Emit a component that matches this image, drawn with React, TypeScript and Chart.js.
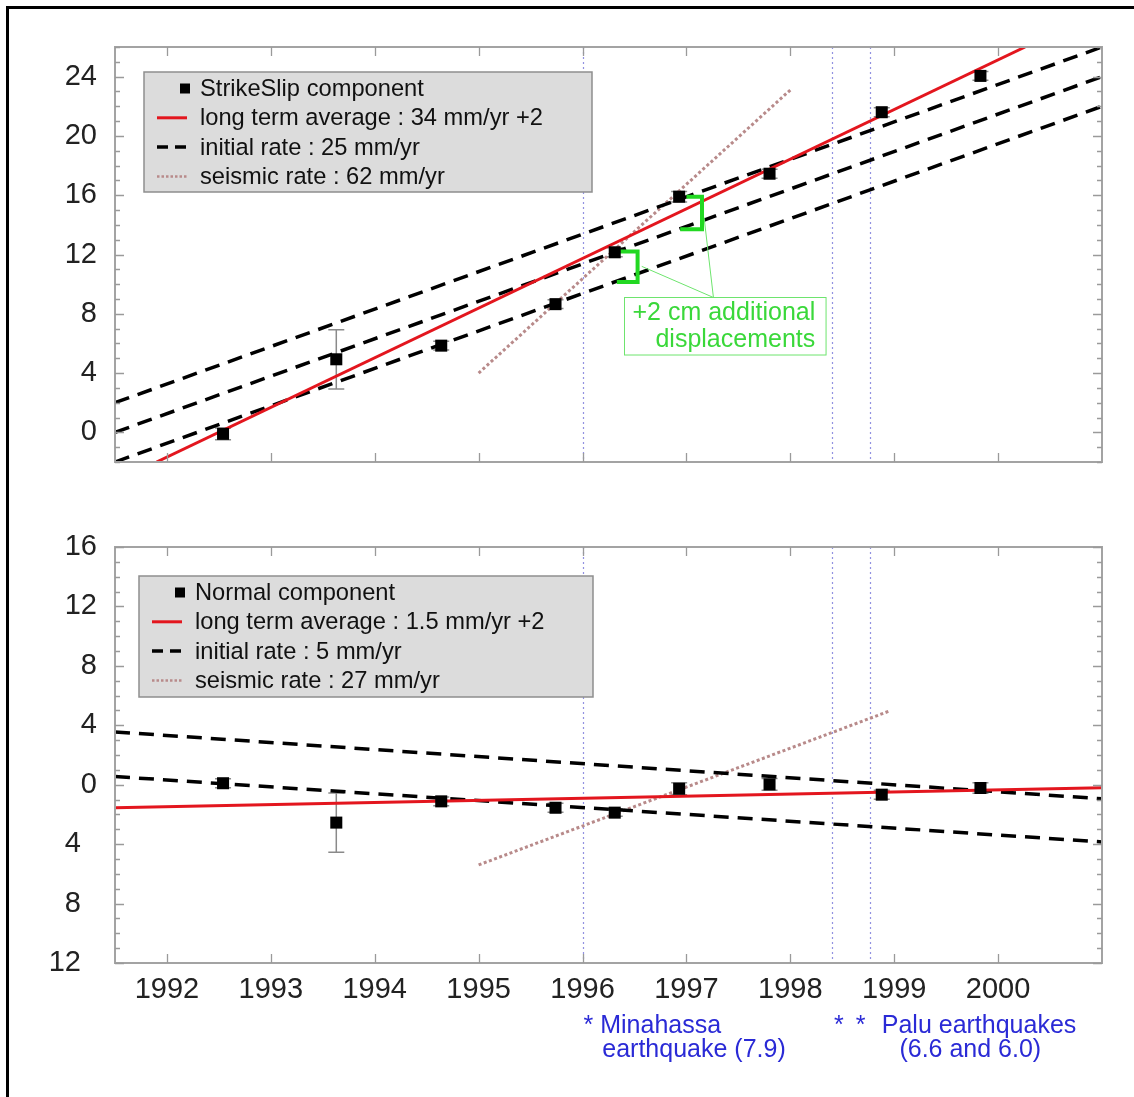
import React, { useEffect, useRef } from "react";
import { Chart, registerables } from "chart.js";

Chart.register(...registerables);

const FONT = '"Liberation Sans", Arial, Helvetica, sans-serif';

// ---------------- data ----------------
const surveyYears = [1992.54, 1993.63, 1994.64, 1995.74, 1996.31, 1996.93, 1997.8, 1998.88, 1999.83];
const strikeSlip = [-0.1, 4.93, 5.85, 8.65, 12.15, 15.9, 17.45, 21.6, 24.05];
const strikeSlipErr = [0.4, 2.0, 0.3, 0.3, 0.3, 0.35, 0.3, 0.3, 0.3];
const normalComp = [0.1, -2.55, -1.12, -1.55, -1.88, -0.27, 0.02, -0.67, -0.22];
const normalErr = [0.3, 2.0, 0.3, 0.3, 0.25, 0.4, 0.4, 0.3, 0.35];

const yearTicks = [1992, 1993, 1994, 1995, 1996, 1997, 1998, 1999, 2000];
const strikeSlipTicks = [0, 4, 8, 12, 16, 20, 24];
const normalTicks = [-12, -8, -4, 0, 4, 8, 12, 16];
const earthquakeYears = [1996.0, 1998.4, 1998.77];

const lineSpanX = [1991.5, 2001];
// strike-slip lines
const ssAverageX = [1991.9, 2000.26];
const ssAverageY = [-2, 26];
const ssInitialUpperY = [2, 26];
const ssInitialMiddleY = [0, 24];
const ssInitialLowerY = [-2, 22];
const ssSeismicX = [1995, 1998];
const ssSeismicY = [4, 23.1];
// normal lines
const nmAverageY = [-1.55, -0.2];
const nmInitialUpperY = [3.55, -0.95];
const nmInitialLowerY = [0.55, -3.85];
const nmSeismicX = [1995, 1998.95];
const nmSeismicY = [-5.4, 4.95];

// "+2 cm additional displacements" brackets and leader lines
const bracketAX = [1996.35, 1996.53, 1996.53, 1996.33];
const bracketAY = [12.2, 12.2, 10.15, 10.15];
const bracketBX = [1997.0, 1997.15, 1997.15, 1996.94];
const bracketBY = [15.9, 15.9, 13.7, 13.7];
const leaderX = [1996.57, 1997.26, 1997.17];
const leaderY = [11.2, 9.1, 14.5];

// ---------------- styles / layout ----------------
const RED = "#e3161e";
const BLACK = "#000000";
const SEISMIC = "#b88a8a";
const GREEN = "#22d822";
const GREEN_LIGHT = "#6ee46e";
const BLUE_TEXT = "#2a2ad6";
const EVENT_COLOR = "rgba(110,110,215,0.75)";
const FRAME = "#a3a3a3";

type Pt = { x: number; y: number };
const pts = (xs: number[], ys: number[]): Pt[] => xs.map((x, i) => ({ x, y: ys[i] }));

type LegendItem = { kind: "marker" | "solid" | "dash" | "dot"; text: string };

interface PanelSpec {
  canvasHeight: number;
  xAxisHeight: number;
  yMin: number;
  yMax: number;
  yTicks: number[];
  values: number[];
  errors: number[];
  lines: any[];
  legendBox: { x: number; y: number; w: number; h: number };
  legend: LegendItem[];
  showXLabels: boolean;
  yLabel: (v: number) => string;
  extraDraw?: (chart: any) => void;
}

const lineDs = (data: Pt[], color: string, width: number, dash: number[], order: number) => ({
  data,
  showLine: true,
  borderColor: color,
  backgroundColor: color,
  borderWidth: width,
  borderDash: dash,
  pointRadius: 0,
  pointHoverRadius: 0,
  tension: 0,
  order,
});

function drawLegend(ctx: CanvasRenderingContext2D, box: PanelSpec["legendBox"], items: LegendItem[]) {
  ctx.save();
  ctx.fillStyle = "#dcdcdc";
  ctx.fillRect(box.x, box.y, box.w, box.h);
  ctx.strokeStyle = "#8e8e8e";
  ctx.lineWidth = 1.5;
  ctx.strokeRect(box.x, box.y, box.w, box.h);
  ctx.font = `23.7px ${FONT}`;
  ctx.textBaseline = "middle";
  ctx.textAlign = "left";
  items.forEach((it, i) => {
    const cy = box.y + 16.5 + i * 29.3;
    const x0 = box.x + 13;
    const x1 = box.x + 43;
    ctx.setLineDash([]);
    if (it.kind === "marker") {
      ctx.fillStyle = BLACK;
      ctx.fillRect(box.x + 36, cy - 5, 10, 10);
    } else if (it.kind === "solid") {
      ctx.strokeStyle = RED;
      ctx.lineWidth = 3;
      ctx.beginPath(); ctx.moveTo(x0, cy); ctx.lineTo(x1, cy); ctx.stroke();
    } else if (it.kind === "dash") {
      ctx.strokeStyle = BLACK;
      ctx.lineWidth = 3.5;
      ctx.setLineDash([11, 7]);
      ctx.beginPath(); ctx.moveTo(x0, cy); ctx.lineTo(x1, cy); ctx.stroke();
    } else {
      ctx.strokeStyle = SEISMIC;
      ctx.lineWidth = 2.5;
      ctx.setLineDash([2.5, 2]);
      ctx.beginPath(); ctx.moveTo(x0, cy); ctx.lineTo(x1, cy); ctx.stroke();
    }
    ctx.setLineDash([]);
    ctx.fillStyle = "#111";
    ctx.fillText(it.text, box.x + 56, cy + 1);
  });
  ctx.restore();
}

function makeDecor(spec: PanelSpec) {
  return {
    id: "decor",
    beforeDatasetsDraw(chart: any) {
      const { ctx, chartArea: a, scales } = chart;
      const x = scales.x;
      const y = scales.y;
      ctx.save();
      // earthquake dates
      ctx.strokeStyle = EVENT_COLOR;
      ctx.lineWidth = 1.2;
      ctx.setLineDash([2, 3]);
      earthquakeYears.forEach((yr) => {
        const px = Math.round(x.getPixelForValue(yr)) + 0.5;
        ctx.beginPath(); ctx.moveTo(px, a.top); ctx.lineTo(px, a.bottom); ctx.stroke();
      });
      ctx.setLineDash([]);
      // error bars
      ctx.strokeStyle = "#8a8a8a";
      ctx.lineWidth = 1.5;
      surveyYears.forEach((yr, i) => {
        const px = x.getPixelForValue(yr);
        const top = y.getPixelForValue(spec.values[i] + spec.errors[i]);
        const bot = y.getPixelForValue(spec.values[i] - spec.errors[i]);
        ctx.beginPath();
        ctx.moveTo(px, top); ctx.lineTo(px, bot);
        ctx.moveTo(px - 8, top); ctx.lineTo(px + 8, top);
        ctx.moveTo(px - 8, bot); ctx.lineTo(px + 8, bot);
        ctx.stroke();
      });
      ctx.restore();
    },
    afterDraw(chart: any) {
      const { ctx, chartArea: a, scales } = chart;
      const x = scales.x;
      const y = scales.y;
      ctx.save();
      // frame
      ctx.strokeStyle = FRAME;
      ctx.lineWidth = 2;
      ctx.strokeRect(a.left, a.top, a.right - a.left, a.bottom - a.top);
      // inward ticks
      ctx.lineWidth = 1.3;
      ctx.strokeStyle = "#9a9a9a";
      ctx.beginPath();
      yearTicks.forEach((yr) => {
        const px = Math.round(x.getPixelForValue(yr)) + 0.5;
        ctx.moveTo(px, a.top); ctx.lineTo(px, a.top + 9);
        ctx.moveTo(px, a.bottom); ctx.lineTo(px, a.bottom - 9);
      });
      for (let v = Math.ceil(spec.yMin); v <= Math.floor(spec.yMax); v += 1) {
        const py = Math.round(y.getPixelForValue(v)) + 0.5;
        const len = spec.yTicks.includes(v) ? 9 : 5;
        ctx.moveTo(a.left, py); ctx.lineTo(a.left + len, py);
        ctx.moveTo(a.right, py); ctx.lineTo(a.right - len, py);
      }
      ctx.stroke();
      ctx.restore();
      drawLegend(ctx, spec.legendBox, spec.legend);
      if (spec.extraDraw) spec.extraDraw(chart);
    },
  };
}

function buildConfig(spec: PanelSpec): any {
  return {
    type: "scatter",
    data: {
      datasets: [
        {
          data: pts(surveyYears, spec.values),
          showLine: false,
          pointStyle: "rect",
          pointRadius: 8.5,
          pointHoverRadius: 8.5,
          pointBackgroundColor: BLACK,
          pointBorderWidth: 0,
          backgroundColor: BLACK,
          order: 0,
        },
        ...spec.lines,
      ],
    },
    options: {
      animation: false,
      responsive: false,
      maintainAspectRatio: false,
      events: [],
      layout: { padding: { top: 47, right: 32, left: 0, bottom: 0 } },
      plugins: { legend: { display: false }, tooltip: { enabled: false } },
      scales: {
        x: {
          type: "linear",
          min: 1991.5,
          max: 2001,
          grid: { display: false, drawTicks: false },
          border: { display: false },
          ticks: {
            display: spec.showXLabels,
            padding: 10,
            color: "#222",
            font: { family: FONT, size: 29 },
            maxRotation: 0,
            autoSkip: false,
            callback: (v: any) => String(v),
          },
          afterBuildTicks: (s: any) => {
            s.ticks = yearTicks.map((v) => ({ value: v }));
          },
          afterFit: (s: any) => {
            s.height = spec.xAxisHeight;
          },
        },
        y: {
          type: "linear",
          min: spec.yMin,
          max: spec.yMax,
          grid: { display: false, drawTicks: false },
          border: { display: false },
          ticks: {
            padding: 18,
            color: "#222",
            font: { family: FONT, size: 29 },
            autoSkip: false,
            callback: (v: any) => spec.yLabel(Number(v)),
          },
          afterBuildTicks: (s: any) => {
            s.ticks = spec.yTicks.map((v) => ({ value: v }));
          },
          afterFit: (s: any) => {
            s.width = 115;
          },
        },
      },
    },
    plugins: [makeDecor(spec)],
  };
}

// green "+2 cm additional displacements" note (top panel)
const noteBox = { x0: 1996.4, x1: 1998.34, y0: 5.24, y1: 9.12 };
const noteLines = [
  { text: "+2 cm additional", x: 1998.24, y: 8.07 },
  { text: "displacements", x: 1998.24, y: 6.2 },
];

function drawNote(chart: any) {
  const { ctx, scales } = chart;
  const x = scales.x;
  const y = scales.y;
  ctx.save();
  const l = x.getPixelForValue(noteBox.x0);
  const r = x.getPixelForValue(noteBox.x1);
  const t = y.getPixelForValue(noteBox.y1);
  const b = y.getPixelForValue(noteBox.y0);
  ctx.strokeStyle = GREEN_LIGHT;
  ctx.lineWidth = 1;
  ctx.strokeRect(Math.round(l) + 0.5, Math.round(t) + 0.5, r - l, b - t);
  ctx.fillStyle = "#3ad83a";
  ctx.font = `25px ${FONT}`;
  ctx.textAlign = "right";
  ctx.textBaseline = "middle";
  noteLines.forEach((ln) => ctx.fillText(ln.text, x.getPixelForValue(ln.x), y.getPixelForValue(ln.y)));
  ctx.restore();
}

// earthquake captions under the bottom panel
const quakeCaptions = [
  { text: "* Minahassa", x: 1996.01, row: 0 },
  { text: "earthquake (7.9)", x: 1996.19, row: 1 },
  { text: "*", x: 1998.42, row: 0 },
  { text: "*", x: 1998.63, row: 0 },
  { text: "Palu earthquakes", x: 1998.88, row: 0 },
  { text: "(6.6 and 6.0)", x: 1999.05, row: 1 },
];

function drawCaptions(chart: any) {
  const { ctx, chartArea: a, scales } = chart;
  const x = scales.x;
  ctx.save();
  ctx.fillStyle = BLUE_TEXT;
  ctx.font = `25px ${FONT}`;
  ctx.textAlign = "left";
  ctx.textBaseline = "middle";
  quakeCaptions.forEach((c) => {
    ctx.fillText(c.text, x.getPixelForValue(c.x), a.bottom + 63 + c.row * 24);
  });
  ctx.restore();
}

const topSpec: PanelSpec = {
  canvasHeight: 500,
  xAxisHeight: 38,
  yMin: -2,
  yMax: 26,
  yTicks: strikeSlipTicks,
  values: strikeSlip,
  errors: strikeSlipErr,
  lines: [
    lineDs(pts(ssAverageX, ssAverageY), RED, 3, [], 2),
    lineDs(pts(lineSpanX, ssInitialUpperY), BLACK, 3.5, [15, 9], 3),
    lineDs(pts(lineSpanX, ssInitialMiddleY), BLACK, 3.5, [15, 9], 3),
    lineDs(pts(lineSpanX, ssInitialLowerY), BLACK, 3.5, [15, 9], 3),
    lineDs(pts(ssSeismicX, ssSeismicY), SEISMIC, 3, [3, 2.5], 4),
    lineDs(pts(bracketAX, bracketAY), GREEN, 4, [], 1),
    lineDs(pts(bracketBX, bracketBY), GREEN, 4, [], 1),
    lineDs(pts(leaderX, leaderY), GREEN_LIGHT, 1, [], 1),
  ],
  legendBox: { x: 144, y: 72, w: 448, h: 120 },
  legend: [
    { kind: "marker", text: "StrikeSlip component" },
    { kind: "solid", text: "long term average : 34 mm/yr +2" },
    { kind: "dash", text: "initial rate : 25 mm/yr" },
    { kind: "dot", text: "seismic rate : 62 mm/yr" },
  ],
  showXLabels: false,
  yLabel: (v) => String(v),
  extraDraw: drawNote,
};

const bottomSpec: PanelSpec = {
  canvasHeight: 597,
  xAxisHeight: 134,
  yMin: -12,
  yMax: 16,
  yTicks: normalTicks,
  values: normalComp,
  errors: normalErr,
  lines: [
    lineDs(pts(lineSpanX, nmAverageY), RED, 3, [], 2),
    lineDs(pts(lineSpanX, nmInitialUpperY), BLACK, 3.5, [15, 9], 3),
    lineDs(pts(lineSpanX, nmInitialLowerY), BLACK, 3.5, [15, 9], 3),
    lineDs(pts(nmSeismicX, nmSeismicY), SEISMIC, 3, [3, 2.5], 4),
  ],
  legendBox: { x: 139, y: 76, w: 454, h: 121 },
  legend: [
    { kind: "marker", text: "Normal component" },
    { kind: "solid", text: "long term average : 1.5 mm/yr +2" },
    { kind: "dash", text: "initial rate : 5 mm/yr" },
    { kind: "dot", text: "seismic rate : 27 mm/yr" },
  ],
  showXLabels: true,
  yLabel: (v) => (v < 0 ? `${-v}  ` : String(v)),
  extraDraw: drawCaptions,
};

function Panel({ spec, top }: { spec: PanelSpec; top: number }) {
  const ref = useRef<HTMLCanvasElement>(null);
  useEffect(() => {
    const chart = new Chart(ref.current as HTMLCanvasElement, buildConfig(spec));
    return () => chart.destroy();
  }, [spec]);
  return (
    <canvas
      ref={ref}
      width={1134}
      height={spec.canvasHeight}
      style={{ position: "absolute", left: 0, top, width: 1134, height: spec.canvasHeight, display: "block" }}
    />
  );
}

export default function App() {
  return (
    <div
      style={{
        position: "absolute",
        left: 0,
        top: 0,
        width: 1134,
        height: 1097,
        overflow: "hidden",
        background: "#ffffff",
      }}
    >
      <div
        style={{
          position: "absolute",
          left: 6,
          top: 6,
          width: 1128,
          height: 1091,
          borderTop: "3px solid #000",
          borderLeft: "3px solid #000",
          boxSizing: "border-box",
        }}
      />
      <Panel spec={topSpec} top={0} />
      <Panel spec={bottomSpec} top={500} />
    </div>
  );
}
